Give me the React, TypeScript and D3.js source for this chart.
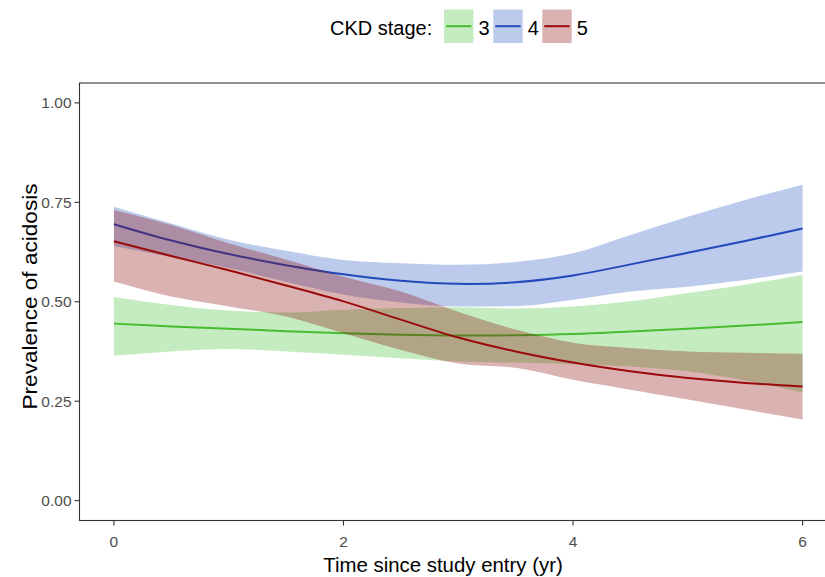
import React from "react";
import * as d3 from "d3";

const times = [0, 0.5, 1, 1.5, 2, 2.5, 3, 3.5, 4, 4.5, 5, 5.5, 6];

const stage3Fit = [0.445, 0.438, 0.432, 0.426, 0.421, 0.417, 0.415, 0.416, 0.419, 0.425, 0.432, 0.44, 0.449];
const stage3Upper = [0.512, 0.492, 0.478, 0.473, 0.48, 0.484, 0.486, 0.483, 0.488, 0.501, 0.522, 0.543, 0.568];
const stage3Lower = [0.364, 0.375, 0.381, 0.375, 0.367, 0.358, 0.35, 0.347, 0.343, 0.337, 0.325, 0.302, 0.272];

const stage4Fit = [0.695, 0.654, 0.62, 0.592, 0.569, 0.553, 0.545, 0.549, 0.566, 0.594, 0.623, 0.653, 0.684];
const stage4Upper = [0.739, 0.697, 0.656, 0.628, 0.605, 0.597, 0.593, 0.6, 0.622, 0.668, 0.714, 0.756, 0.794];
const stage4Lower = [0.64, 0.612, 0.585, 0.55, 0.518, 0.498, 0.488, 0.489, 0.505, 0.526, 0.538, 0.555, 0.576];

const stage5Fit = [0.652, 0.615, 0.579, 0.541, 0.501, 0.455, 0.41, 0.375, 0.347, 0.325, 0.308, 0.296, 0.287];
const stage5Upper = [0.731, 0.693, 0.647, 0.606, 0.563, 0.526, 0.475, 0.43, 0.397, 0.384, 0.375, 0.372, 0.369];
const stage5Lower = [0.551, 0.513, 0.488, 0.463, 0.421, 0.379, 0.345, 0.334, 0.304, 0.279, 0.254, 0.229, 0.204];

const stageLabels = ["3", "4", "5"];
const lineColors = ["#46BC2E", "#2348BA", "#9A0A0A"];
const fillColors = ["#3EC02D", "#2052BC", "#870000"];

const xTicks = [0, 2, 4, 6];
const yTicks = [0, 0.25, 0.5, 0.75, 1];

const series = [
  { fit: stage3Fit, upper: stage3Upper, lower: stage3Lower },
  { fit: stage4Fit, upper: stage4Upper, lower: stage4Lower },
  { fit: stage5Fit, upper: stage5Upper, lower: stage5Lower },
];

export default function App() {
  const W = 825;
  const H = 577;
  const left = 79.5;
  const right = 837;
  const top = 83;
  const bottom = 520.5;

  const x = d3.scaleLinear().domain([-0.3, 6.3]).range([left, right]);
  const y = d3.scaleLinear().domain([-0.05, 1.05]).range([bottom, top]);

  const font = "'Liberation Sans', Arial, Helvetica, sans-serif";

  const area = d3
    .area<number>()
    .x((_, i) => x(times[i]))
    .curve(d3.curveMonotoneX);
  const line = d3
    .line<number>()
    .x((_, i) => x(times[i]))
    .y((d) => y(d))
    .curve(d3.curveCatmullRom.alpha(0.5));

  const legendKeys = [444, 493.3, 542.3];

  return (
    <svg
      width={W}
      height={H}
      style={{ position: "absolute", left: 0, top: 0, background: "#fff" }}
      fontFamily={font}
    >
      <rect x={0} y={0} width={W} height={H} fill="#fff" />
      {series.map((s, k) => (
        <g key={k}>
          <path
            d={
              area
                .y0((_, i) => y(s.lower[i]))
                .y1((_, i) => y(s.upper[i]))(s.fit) || ""
            }
            fill={fillColors[k]}
            fillOpacity={0.3}
            stroke="none"
          />
          <path d={line(s.fit) || ""} fill="none" stroke={lineColors[k]} strokeWidth={2} />
        </g>
      ))}
      <rect
        x={left}
        y={top}
        width={right - left}
        height={bottom - top}
        fill="none"
        stroke="#333333"
        strokeWidth={1.1}
      />
      {yTicks.map((t) => (
        <g key={"y" + t}>
          <line x1={left - 5} x2={left} y1={y(t)} y2={y(t)} stroke="#333333" strokeWidth={1.1} />
          <text
            x={left - 8}
            y={y(t) + 5.5}
            textAnchor="end"
            fontSize={15.5}
            fill="#4D4D4D"
          >
            {t.toFixed(2)}
          </text>
        </g>
      ))}
      {xTicks.map((t) => (
        <g key={"x" + t}>
          <line x1={x(t)} x2={x(t)} y1={bottom} y2={bottom + 5} stroke="#333333" strokeWidth={1.1} />
          <text x={x(t)} y={bottom + 26.5} textAnchor="middle" fontSize={15.5} fill="#4D4D4D">
            {t}
          </text>
        </g>
      ))}
      <text x={443} y={572} textAnchor="middle" fontSize={20.4} fill="#000">
        Time since study entry (yr)
      </text>
      <text
        transform={`translate(36.5,296.5) rotate(-90)`}
        textAnchor="middle"
        fontSize={21}
        textLength={226}
        lengthAdjust="spacingAndGlyphs"
        fill="#000"
      >
        Prevalence of acidosis
      </text>
      <text x={330} y={35} fontSize={20} fill="#000">
        CKD stage:
      </text>
      {legendKeys.map((kx, k) => (
        <g key={"l" + k}>
          <rect x={kx} y={9.5} width={29.4} height={33.5} fill={fillColors[k]} fillOpacity={0.3} />
          <line
            x1={kx + 2}
            x2={kx + 27.4}
            y1={26.2}
            y2={26.2}
            stroke={lineColors[k]}
            strokeWidth={2}
          />
          <text x={kx + 34.5} y={35} fontSize={20} fill="#000">
            {stageLabels[k]}
          </text>
        </g>
      ))}
    </svg>
  );
}
